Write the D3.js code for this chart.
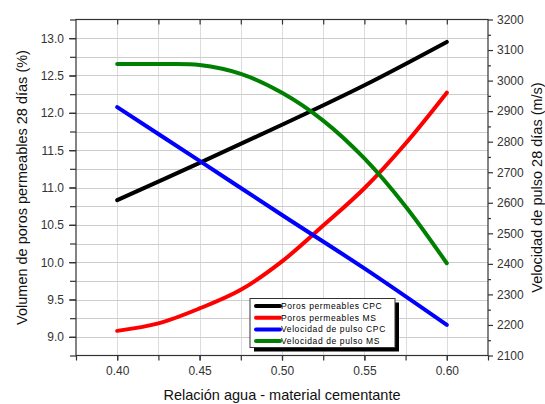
<!DOCTYPE html>
<html><head><meta charset="utf-8">
<script src="https://cdn.jsdelivr.net/npm/d3@7"></script>
<style>
html,body{margin:0;padding:0;background:#fff;}
svg{display:block;font-family:"Liberation Sans",Arial,sans-serif;}
</style></head>
<body><svg id="c" width="545" height="404"></svg>
<script>
// ---- data ----
const xCoarse = [0.40, 0.45, 0.50, 0.55, 0.60];
const xFine = [0.40, 0.425, 0.45, 0.475, 0.50, 0.525, 0.55, 0.575, 0.60];
const porosCPC = [10.83, 11.33, 11.84, 12.37, 12.95];          // left axis
const porosMS = [9.08, 9.18, 9.38, 9.63, 10.01, 10.49, 10.99, 11.59, 12.27]; // left axis
const veloCPC = [2913, 2737, 2560, 2385, 2200];               // right axis
const veloMS = [3054, 3054, 3051, 3022, 2960, 2869, 2745, 2588, 2402]; // right axis
const xTicks = [0.40, 0.45, 0.50, 0.55, 0.60];
const leftTicks = [9.0, 9.5, 10.0, 10.5, 11.0, 11.5, 12.0, 12.5, 13.0];
const rightTicks = [2100, 2200, 2300, 2400, 2500, 2600, 2700, 2800, 2900, 3000, 3100, 3200];
const seriesNames = ["Poros permeables CPC", "Poros permeables MS", "Velocidad de pulso CPC", "Velocidad de pulso MS"];
const seriesColors = ["#000000", "#ff0000", "#0000ff", "#008000"];
const xTitle = "Relación agua - material cementante";
const yLeftTitle = "Volumen de poros permeables 28 días (%)";
const yRightTitle = "Velocidad de pulso 28 días (m/s)";

// ---- layout ----
const L = 76, R = 488, T = 19.5, B = 355.5;
const svg = d3.select("#c");
const x = d3.scaleLinear().domain([0.375, 0.625]).range([L, R]);
const yL = d3.scaleLinear().domain([8.75, 13.25]).range([B, T]);
const yR = d3.scaleLinear().domain([2100, 3200]).range([B, T]);

// grid
const g = svg.append("g");
g.selectAll(".vg").data(d3.range(0.40, 0.6001, 0.025)).join("line")
  .attr("x1", d => Math.round(x(d)) + 0.5).attr("x2", d => Math.round(x(d)) + 0.5)
  .attr("y1", T).attr("y2", B).attr("stroke", "#dcdcdc").attr("stroke-width", 1);
g.selectAll(".hg").data(d3.range(9.0, 13.001, 0.25)).join("line")
  .attr("y1", d => Math.round(yL(d)) + 0.5).attr("y2", d => Math.round(yL(d)) + 0.5)
  .attr("x1", L).attr("x2", R).attr("stroke", "#cdcdcd").attr("stroke-width", 1);

// frame
svg.append("rect").attr("x", L).attr("y", T).attr("width", R - L).attr("height", B - T)
  .attr("fill", "none").attr("stroke", "#333").attr("stroke-width", 1.2);

// axes
const axisCol = "#333";
function styleAxis(sel) {
  sel.select(".domain").remove();
  sel.selectAll("line").attr("stroke", axisCol).attr("stroke-width", 1.2);
  sel.selectAll("text").attr("fill", "#333").style("font-size", "12px")
    .style("font-family", "'Liberation Sans',Arial,sans-serif");
}
// bottom
svg.append("g").attr("transform", `translate(0,${B})`)
  .call(d3.axisBottom(x).tickValues(d3.range(0.375, 0.6251, 0.025)).tickSize(5).tickFormat(""))
  .call(styleAxis);
svg.append("g").attr("transform", `translate(0,${B})`)
  .call(d3.axisBottom(x).tickValues(xTicks).tickSize(5).tickPadding(6).tickFormat(d3.format(".2f")))
  .call(styleAxis);
// top inner ticks
svg.append("g").attr("transform", `translate(0,${T})`)
  .call(d3.axisTop(x).tickValues(d3.range(0.40, 0.6001, 0.025)).tickSize(-5).tickFormat(""))
  .call(styleAxis);
// left
svg.append("g").attr("transform", `translate(${L},0)`)
  .call(d3.axisLeft(yL).tickValues(d3.range(8.75, 13.251, 0.25)).tickSize(6).tickFormat(""))
  .call(styleAxis);
svg.append("g").attr("transform", `translate(${L},0)`)
  .call(d3.axisLeft(yL).tickValues(leftTicks).tickSize(7).tickPadding(5).tickFormat(d3.format(".1f")))
  .call(styleAxis);
// right
svg.append("g").attr("transform", `translate(${R},0)`)
  .call(d3.axisRight(yR).tickValues(d3.range(2150, 3200, 100)).tickSize(3).tickFormat(""))
  .call(styleAxis);
svg.append("g").attr("transform", `translate(${R},0)`)
  .call(d3.axisRight(yR).tickValues(rightTicks).tickSize(5).tickPadding(4).tickFormat(d3.format("d")))
  .call(styleAxis);

// titles
svg.append("text").attr("x", (L + R) / 2).attr("y", 400).attr("text-anchor", "middle")
  .style("font-size", "14.5px").attr("fill", "#111").text(xTitle);
svg.append("text").attr("transform", `translate(22,${(T + B) / 2}) rotate(-90)`)
  .attr("text-anchor", "middle").attr("dy", "0.35em").style("font-size", "14.5px").attr("fill", "#111").text(yLeftTitle);
svg.append("text").attr("transform", `translate(537,${(T + B) / 2}) rotate(-90)`)
  .attr("text-anchor", "middle").attr("dy", "0.35em").style("font-size", "14.5px").attr("fill", "#111").text(yRightTitle);

// lines
const lineL = (xs) => d3.line().x((d, i) => x(xs[i])).y(d => yL(d)).curve(d3.curveCatmullRom.alpha(0.5));
const lineR = (xs) => d3.line().x((d, i) => x(xs[i])).y(d => yR(d)).curve(d3.curveCatmullRom.alpha(0.5));
const series = [
  {vals: porosCPC, gen: lineL(xCoarse)},
  {vals: porosMS, gen: lineL(xFine)},
  {vals: veloCPC, gen: lineR(xCoarse)},
  {vals: veloMS, gen: lineR(xFine)}
];
series.forEach((s, i) => {
  svg.append("path").attr("d", s.gen(s.vals)).attr("fill", "none")
    .attr("stroke", seriesColors[i]).attr("stroke-width", 4).attr("stroke-linecap", "round");
});

// legend
const lx = 250, ly = 298.5, lw = 145, lh = 49;
svg.append("rect").attr("x", lx + 4).attr("y", ly + 4).attr("width", lw).attr("height", lh).attr("fill", "#000");
svg.append("rect").attr("x", lx).attr("y", ly).attr("width", lw).attr("height", lh)
  .attr("fill", "#fff").attr("stroke", "#333").attr("stroke-width", 1);
seriesNames.forEach((n, i) => {
  const yy = ly + 7.5 + i * 11.7;
  svg.append("line").attr("x1", lx + 6).attr("x2", lx + 30).attr("y1", yy).attr("y2", yy)
    .attr("stroke", seriesColors[i]).attr("stroke-width", 4).attr("stroke-linecap", "round");
  svg.append("text").attr("x", lx + 31).attr("y", yy).attr("dy", "0.35em")
    .style("font-size", "8.5px").style("letter-spacing", "0.6px").attr("fill", "#000").text(n);
});
</script></body></html>
